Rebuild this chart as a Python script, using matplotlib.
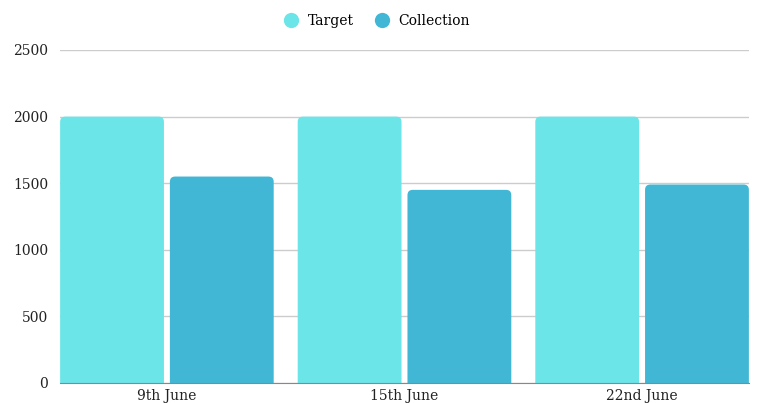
import matplotlib.pyplot as plt
from matplotlib.patches import FancyBboxPatch
from matplotlib.lines import Line2D
import numpy as np

plt.rcParams['font.family'] = ['DejaVu Serif']

categories = ['9th June', '15th June', '22nd June']
target = [2000, 2000, 2000]
collection = [1550, 1450, 1490]
series_names = ['Target', 'Collection']
colors = ['#6ce5e8', '#42b7d5']

fig = plt.figure(figsize=(7.58, 4.03), dpi=100)
ax = fig.add_axes([60/758, 20/403, 689/758, 333/403])

x = np.arange(len(categories))
bw = 0.437
off = 0.231
ax.set_xlim(-0.45, 2.45)
ax.set_ylim(0, 2500)

# rounded top corners: x unit = 238 px, y unit = 0.1332 px
aspect = (1/0.1332) / (1/238.0)
for vals, sign, col in [(target, -1, colors[0]), (collection, 1, colors[1])]:
    for xi, v in zip(x, vals):
        p = FancyBboxPatch((xi + sign*off - bw/2, -100), bw, v + 100,
                           boxstyle='round,pad=0,rounding_size=0.022',
                           mutation_aspect=aspect, fc=col, ec='none',
                           zorder=3, clip_on=True)
        ax.add_patch(p)

ax.set_yticks([0, 500, 1000, 1500, 2000, 2500])
ax.yaxis.grid(True, color='#cccccc', lw=1, zorder=0)
ax.set_xticks(x)
ax.set_xticklabels(categories)
ax.tick_params(length=0, labelsize=10, colors='#222222')
ax.tick_params(axis='y', pad=8.6)
ax.tick_params(axis='x', pad=4)
for s in ['top', 'right', 'left']:
    ax.spines[s].set_visible(False)
ax.spines['bottom'].set_color('#888888')
ax.spines['bottom'].set_zorder(4)

handles = [Line2D([], [], marker='o', ls='none', markersize=11,
                  markerfacecolor=c, markeredgecolor='none') for c in colors]
fig.legend(handles, series_names, loc='center', bbox_to_anchor=(377/758, 1 - 21/403),
           ncol=2, frameon=False, fontsize=10, handletextpad=0.7,
           columnspacing=1.5, handlelength=1)

fig.savefig('out.png', dpi=100)
